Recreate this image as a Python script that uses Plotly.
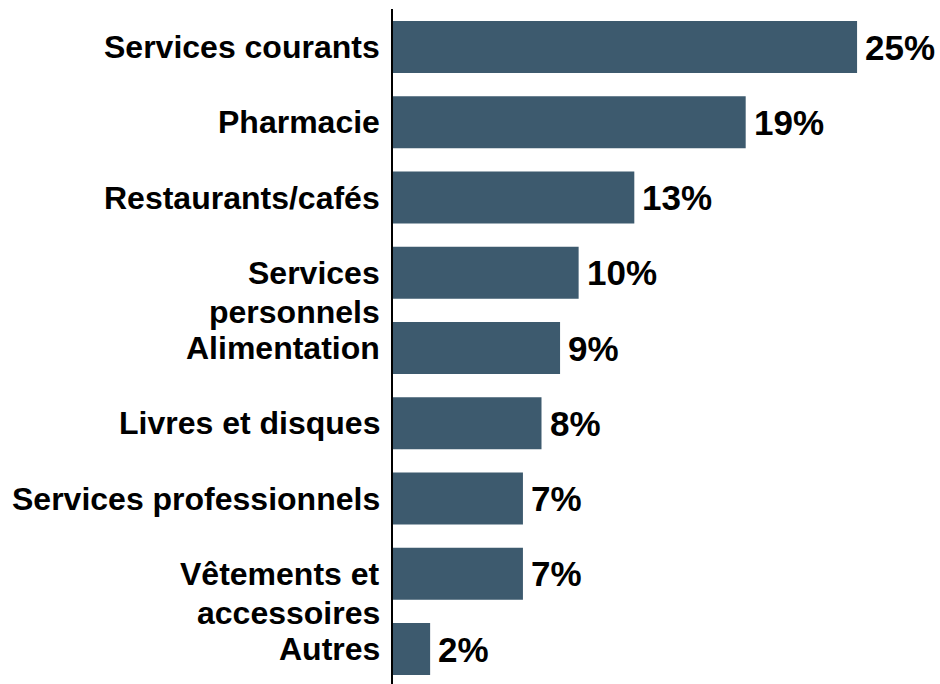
import plotly.graph_objects as go

# Share of spending by category (%)
categories = [
    "Services courants",
    "Pharmacie",
    "Restaurants/cafés",
    "Services<br>personnels",
    "Alimentation",
    "Livres et disques",
    "Services professionnels",
    "Vêtements et<br>accessoires",
    "Autres",
]
values = [25, 19, 13, 10, 9, 8, 7, 7, 2]
value_labels = [f"{v}%" for v in values]

BAR_COLOR = "#3d5a6e"
FONT = "Arial, Liberation Sans, sans-serif"
LABEL_SIZE = 32
VALUE_SIZE = 35
LINE_STEP = 39  # px between wrapped label lines

ids = list(range(len(categories)))

fig = go.Figure(
    go.Bar(
        x=values,
        y=ids,
        orientation="h",
        marker=dict(color=BAR_COLOR, line=dict(width=0)),
        hoverinfo="skip",
    )
)

annotations = []
for i, (cat, v, lab) in enumerate(zip(categories, values, value_labels)):
    # first line centred on the bar, continuation lines hang below it
    for k, line in enumerate(cat.split("<br>")):
        annotations.append(dict(
            x=0, y=i, xref="x", yref="y", text=f"<b>{line}</b>",
            xanchor="right", yanchor="middle", xshift=-11,
            yshift=-LINE_STEP * k, showarrow=False,
            font=dict(family=FONT, size=LABEL_SIZE, color="black"),
        ))
    annotations.append(dict(
        x=v, y=i, xref="x", yref="y", text=f"<b>{lab}</b>",
        xanchor="left", yanchor="middle", xshift=6, yshift=0, showarrow=False,
        font=dict(family=FONT, size=VALUE_SIZE, color="black"),
    ))

fig.update_layout(
    width=940,
    height=684,
    margin=dict(l=393, r=2, t=9, b=0),
    paper_bgcolor="white",
    plot_bgcolor="white",
    bargap=0.31,
    showlegend=False,
    annotations=annotations,
    xaxis=dict(range=[0, 29.36], visible=False, fixedrange=True),
    yaxis=dict(
        range=[8.465, -0.505],
        showticklabels=False,
        ticks="",
        showgrid=False,
        zeroline=False,
        showline=True,
        linecolor="black",
        linewidth=2,
        fixedrange=True,
    ),
)

fig.write_html("out.html", config={"displayModeBar": False})
